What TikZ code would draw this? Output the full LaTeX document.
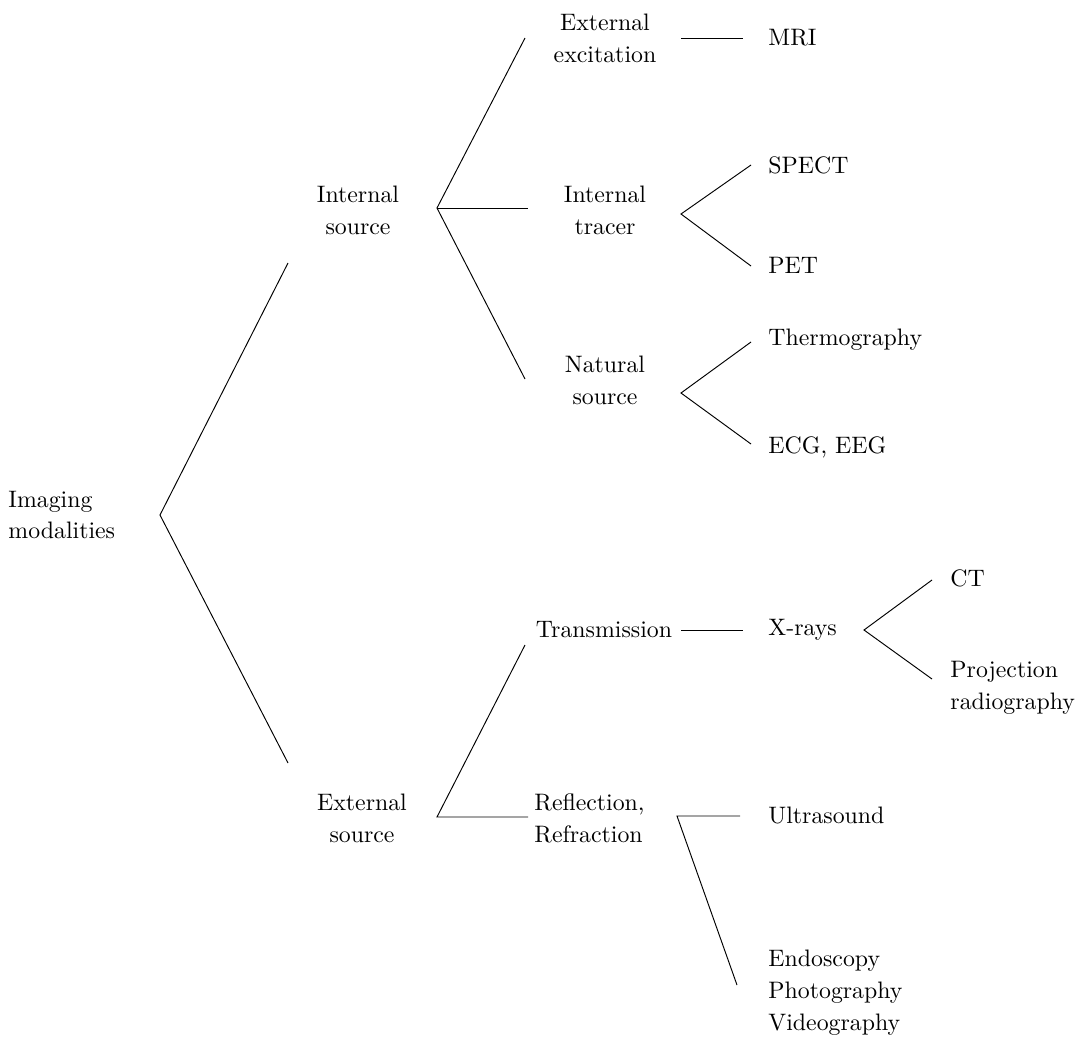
\documentclass[tikz,border=0pt]{standalone}
\begin{document}
\begin{tikzpicture}[x=0.42pt,y=-0.42pt,
  lbl/.style={align=center,inner sep=0pt,font=\fontsize{10}{13.4}\selectfont},
  leaf/.style={align=left,anchor=west,inner sep=0pt,font=\fontsize{10}{13.4}\selectfont}]
\useasboundingbox (0,0) rectangle (1077,1039);
\node[leaf] (IM) at (8,515) {Imaging\\modalities};
\node[lbl] (IS) at (358,210) {Internal\\source};
\node[lbl] (ES) at (362,818) {External\\source};
\node[lbl] (EE) at (605,38) {External\\excitation};
\node[lbl] (IT) at (605,210) {Internal\\tracer};
\node[lbl] (NS) at (605,380) {Natural\\source};
\node[lbl] (TR) at (604,630) {Transmission};
\node[leaf] (RR) at (534,818) {Reflection,\\Refraction};
\node[leaf] (MRI) at (768,38) {MRI};
\node[leaf] (SPECT) at (768,165) {SPECT};
\node[leaf] (PET) at (768,265) {PET};
\node[leaf] (TH) at (768,340) {Thermography};
\node[leaf] (ECG) at (768,447) {ECG, EEG};
\node[leaf] (XR) at (768,630) {X-rays};
\node[leaf] (US) at (768,815) {Ultrasound};
\node[leaf] (EPV) at (768,993) {Endoscopy\\Photography\\Videography};
\node[leaf] (CT) at (950,578) {CT};
\node[leaf] (PR) at (950,688) {Projection\\radiography};
\coordinate (V0) at (160,515);
\coordinate (V0a) at (288,263);
\coordinate (V0b) at (288,763);
\coordinate (V1) at (437,208);
\coordinate (V1a) at (525,38);
\coordinate (V1b) at (528,208);
\coordinate (V1c) at (525,379);
\coordinate (V2) at (437,817);
\coordinate (V2a) at (525,645);
\coordinate (V2b) at (528,817);
\coordinate (M0) at (681,38);
\coordinate (M1) at (743,38);
\coordinate (T0) at (681,214);
\coordinate (T1) at (751,165);
\coordinate (T2) at (751,266);
\coordinate (N0) at (681,393);
\coordinate (N1) at (751,342);
\coordinate (N2) at (751,444);
\coordinate (X0) at (681,630);
\coordinate (X1) at (743,630);
\coordinate (C0) at (864,630);
\coordinate (C1) at (932,580);
\coordinate (C2) at (932,679);
\coordinate (R0) at (677,816);
\coordinate (R1) at (740,816);
\coordinate (R2) at (737,985);
\draw (V0a) -- (V0) -- (V0b);
\draw (V1a) -- (V1) -- (V1c);
\draw (V1) -- (V1b);
\draw (V2a) -- (V2) -- (V2b);
\draw (M0) -- (M1);
\draw (T1) -- (T0) -- (T2);
\draw (N1) -- (N0) -- (N2);
\draw (X0) -- (X1);
\draw (C1) -- (C0) -- (C2);
\draw (R1) -- (R0) -- (R2);
\end{tikzpicture}
\end{document}
